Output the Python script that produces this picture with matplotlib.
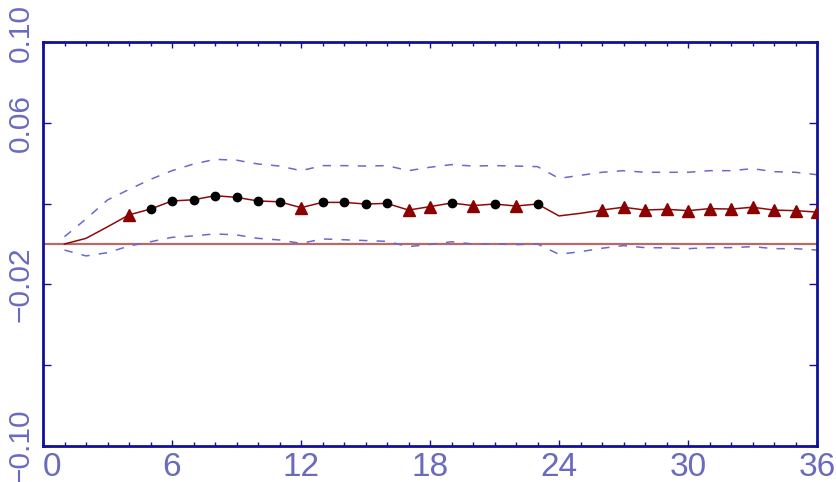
import matplotlib
matplotlib.use("Agg")
import matplotlib.pyplot as plt
from matplotlib.font_manager import FontProperties
from matplotlib.ticker import FixedLocator, FixedFormatter, MultipleLocator
from matplotlib.transforms import ScaledTranslation

# ---- data ----
steps = list(range(1, 37))
response = [0.0, 0.0028, 0.0085, 0.0144, 0.0173, 0.0213, 0.0219, 0.0239, 0.0231,
            0.0213, 0.0209, 0.0180, 0.0206, 0.0206, 0.0198, 0.0201, 0.0168, 0.0185,
            0.0203, 0.0190, 0.0198, 0.0188, 0.0198, 0.0139, 0.0152, 0.0168, 0.0182,
            0.0168, 0.0172, 0.0165, 0.0175, 0.0173, 0.0182, 0.0168, 0.0165, 0.0158]
upper = [0.0036, 0.0124, 0.0218, 0.0270, 0.0320, 0.0363, 0.0396, 0.0419, 0.0415,
         0.0396, 0.0386, 0.0363, 0.0388, 0.0388, 0.0386, 0.0388, 0.0363, 0.0380,
         0.0393, 0.0386, 0.0388, 0.0386, 0.0383, 0.0325, 0.0340, 0.0355, 0.0363,
         0.0355, 0.0355, 0.0355, 0.0363, 0.0363, 0.0373, 0.0358, 0.0355, 0.0343]
lower = [-0.0030, -0.0059, -0.0043, -0.0010, 0.0011, 0.0033, 0.0040, 0.0050, 0.0045,
         0.0028, 0.0020, 0.0003, 0.0025, 0.0021, 0.0017, 0.0013, -0.0013, -0.0002,
         0.0011, 0.0000, 0.0000, -0.0003, 0.0000, -0.0051, -0.0038, -0.0021, -0.0008,
         -0.0018, -0.0019, -0.0023, -0.0018, -0.0018, -0.0013, -0.0023, -0.0023, -0.0030]
# marker type per step: '' none, 'o' circle, '^' triangle
marker_kind = ['', '', '', '^', 'o', 'o', 'o', 'o', 'o', 'o', 'o', '^', 'o', 'o', 'o', 'o',
               '^', '^', 'o', '^', 'o', '^', 'o', '', '', '^', '^', '^', '^', '^', '^', '^',
               '^', '^', '^', '^']
x_ticks = [0, 6, 12, 18, 24, 30, 36]
x_ticklabels = ["0", "6", "12", "18", "24", "30", "36"]
y_ticks = [-0.10, -0.06, -0.02, 0.02, 0.06, 0.10]
y_ticklabels = ["\u22120.10", "", "\u22120.02", "", "0.06", "0.10"]

# ---- style ----
navy = "#10109a"
label_col = "#6a6abf"
band_col = "#6a6ac8"
line_col = "#8e0a0a"
zero_col = "#b86a6a"

fig = plt.figure(figsize=(8.36, 4.82), dpi=100)
ax = fig.add_axes([43/836, 1-446/482, (817-43)/836, (446-42)/482])

ax.axhline(0, color=zero_col, lw=1.6, zorder=1)
ax.plot(steps, upper, color=band_col, lw=1.1, dashes=(5.5, 6), zorder=2)
ax.plot(steps, lower, color=band_col, lw=1.1, dashes=(5.5, 6), zorder=2)
ax.plot(steps, response, color=line_col, lw=1.1, zorder=3)

xo = [s for s, k in zip(steps, marker_kind) if k == 'o']
yo = [v for v, k in zip(response, marker_kind) if k == 'o']
xt = [s for s, k in zip(steps, marker_kind) if k == '^']
yt = [v for v, k in zip(response, marker_kind) if k == '^']
ax.plot(xo, yo, ls='none', marker='o', ms=6, color='black', zorder=4)
ax.plot(xt, yt, ls='none', marker='^', ms=8, color='#8b0000', zorder=4)

ax.set_xlim(0, 36)
ax.set_ylim(-0.10, 0.10)

for sp in ax.spines.values():
    sp.set_color(navy)
    sp.set_linewidth(2.0)

ax.xaxis.set_major_locator(FixedLocator(x_ticks))
ax.xaxis.set_major_formatter(FixedFormatter(x_ticklabels))
ax.xaxis.set_minor_locator(MultipleLocator(1))
ax.yaxis.set_major_locator(FixedLocator(y_ticks))
ax.yaxis.set_major_formatter(FixedFormatter(y_ticklabels))

ax.tick_params(axis='both', which='both', direction='in', color=navy,
               top=True, right=True)
ax.tick_params(axis='x', which='major', length=4.5, width=1.0, pad=4)
ax.tick_params(axis='x', which='minor', length=3, width=1.0)
ax.tick_params(axis='y', which='major', length=5.5, width=1.0, pad=6)

xfp = FontProperties(family=['Liberation Sans', 'DejaVu Sans'], size=24)
yfp = FontProperties(family=['Liberation Sans', 'DejaVu Sans'], size=21.5)
for lab in ax.get_xticklabels():
    lab.set_fontproperties(xfp)
    lab.set_color(label_col)
ax.get_xticklabels()[0].set_horizontalalignment('left')
ylabs = ax.get_yticklabels()
for lab in ylabs:
    lab.set_fontproperties(yfp)
    lab.set_color(label_col)
    lab.set_rotation(90)
    lab.set_verticalalignment('center')
top_lab = ylabs[-1]
top_lab.set_transform(top_lab.get_transform() +
                      ScaledTranslation(0, 0.09, fig.dpi_scale_trans))

fig.savefig("out.png", dpi=100, facecolor='white')
